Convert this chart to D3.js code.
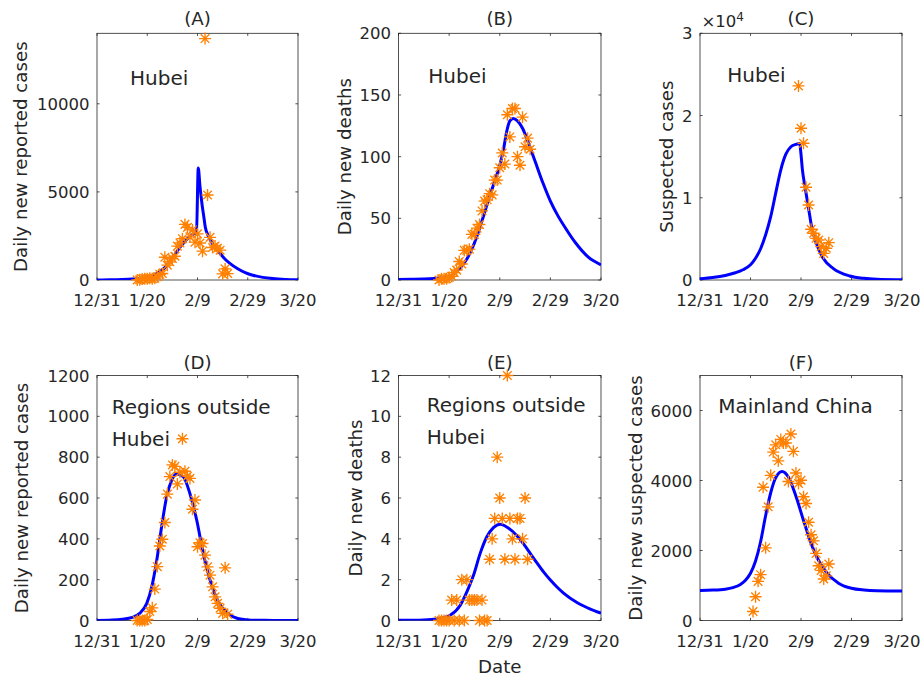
<!DOCTYPE html>
<html><head><meta charset="utf-8">
<script src="https://cdn.jsdelivr.net/npm/d3@7"></script>
<style>
body{margin:0;background:#fff}
svg{display:block}
text{font-family:"DejaVu Sans",sans-serif;fill:#262626}
</style>
</head><body>
<svg id="chart" width="921" height="678"></svg>
<script>
// ---------- shared axis data ----------
const xTickDays = [0, 20, 40, 60, 80];
const xTickLabels = ["12/31", "1/20", "2/9", "2/29", "3/20"];

// ---------- (A) Hubei daily new reported cases ----------
const obsDaysA = [16,17,18,19,20,21,22,23,24,25,26,27,28,29,30,31,32,33,34,35,36,37,38,39,40,41,42,43,44,45,46,47,48,49,50,51,52];
const obsA = [4,17,59,77,72,105,69,105,180,323,371,1291,840,1032,1220,1347,1921,2103,2345,3156,2987,2447,2841,2147,2618,2097,1638,13700,4823,2420,1843,1933,1807,1693,349,631,366];
const fitDaysA = [0,5,10,14,18,21,24,27,30,33,36,38,39.6,40.3,41,41.8,42.5,43.1,44,45.2,47,49,51,53,56,59,62,66,70,75,80];
const fitA = [5,10,25,50,100,180,380,700,1250,1850,2350,2580,2680,6350,5300,4300,3600,3000,2600,2240,1850,1500,1180,930,640,420,270,150,80,35,15];
const yTicksA = [0,5000,10000];
const yTickLabelsA = ["0","5000","10000"];

// ---------- (B) Hubei daily new deaths ----------
const obsDaysB = [16,17,18,19,20,21,22,23,24,25,26,27,28,29,30,31,32,33,34,35,36,37,38,39,40,41,42,43,44,45,46,47,48,49,50,51,52];
const obsB = [0,1,1,1,2,3,6,8,15,13,24,24,25,37,37,42,45,56,64,65,70,69,81,81,91,103,94,134,116,139,139,100,93,132,108,115,106];
const fitDaysB = [0,5,10,14,18,21,24,27,30,33,36,38,40,41.5,42.7,44,45.3,47,49,51,54,57,60,63,66,70,75,80];
const fitB = [0.5,0.6,0.8,1.2,2,4,9,17,30,48,68,80,93,106,120,129,131,129,123,113,96,79,64,52,42,30,18.5,12.3];
const yTicksB = [0,50,100,150,200];
const yTickLabelsB = ["0","50","100","150","200"];

// ---------- (C) Hubei suspected cases ----------
const obsDaysC = [39,40,41,42,43,44,45,46,47,48,49,50,51];
const obsC = [23600,18450,16630,11280,9120,6170,5680,5070,4870,4050,3240,3860,4540];
const fitDaysC = [0,5,10,14,17,20,22,24,26,28,30,32,34,36,38,39.5,39.9,40.6,41.6,42.9,44.2,46.1,48.8,52.7,59.3,65,70,80];
const fitC = [150,300,550,880,1250,1850,2650,3800,5500,7700,10600,13400,15300,16200,16500,16600,15600,13300,11300,8900,6480,4460,2640,1420,490,200,100,40];
const yTicksC = [0,10000,20000,30000];
const yTickLabelsC = ["0","1","2","3"];

// ---------- (D) Outside Hubei daily new reported cases ----------
const obsDaysD = [16,17,18,19,20,21,22,23,24,25,26,27,28,29,30,31,32,33,34,35,36,37,38,39,40,41,42,43,44,45,46,47,48,49,50,51,52];
const obsD = [0,0,0,0,5,44,62,154,264,365,398,480,619,705,762,755,669,726,890,731,707,696,545,590,361,381,377,320,263,222,165,116,84,60,35,258,31];
const fitDaysD = [0,6,10,14,17,19.8,21.8,23.8,25.7,27.7,29.7,31.7,34.4,37,39.7,42.3,45,48.3,52.9,56,60,65,70,80];
const fitD = [0,2,6,15,35,84,165,296,458,605,686,719,703,621,491,328,198,92,27,10,3,1,0.5,0];
const yTicksD = [0,200,400,600,800,1000,1200];
const yTickLabelsD = ["0","200","400","600","800","1000","1200"];

// ---------- (E) Outside Hubei daily new deaths ----------
const obsDaysE = [16,17,18,19,20,21,22,23,24,25,26,27,28,29,30,31,32,33,34,35,36,37,38,39,40,41,42,43,44,45,46,47,48,49,50,51];
const obsE = [0,0,0,0,0,1,0,1,0,2,0,2,1,1,1,1,0,1,0,0,3,4,5,8,6,5,3,12,5,4,3,5,5,4,6,3];
const fitDaysE = [0,10,15,18,20.4,24.4,27,29.6,32.3,34.9,37.5,40.2,43.5,46.8,49.4,52.1,54.7,57.3,60,62.6,65.2,70.5,75.8,80];
const fitE = [0.01,0.03,0.07,0.15,0.26,0.75,1.4,2.2,3.3,4.1,4.55,4.72,4.52,4.15,3.75,3.28,2.82,2.38,1.98,1.64,1.34,0.88,0.56,0.36];
const yTicksE = [0,2,4,6,8,10,12];
const yTickLabelsE = ["0","2","4","6","8","10","12"];

// ---------- (F) Mainland China daily new suspected cases ----------
const obsDaysF = [21,22,23,24,25,26,27,28,29,30,31,32,33,34,35,36,37,38,39,40,41,42,43,44,45,46,47,48,49,50,51];
const obsF = [257,680,1118,1309,3806,2077,3248,4148,4812,5019,4562,5173,5072,5072,3971,5328,4833,4214,3916,4008,3536,3342,2807,2450,2277,1918,1563,1432,1185,1277,1614];
const fitDaysF = [0,5,10,13,16,18,20,22,24,26,28,30,32.5,35,38,40.9,43.5,46.1,50,55,60,65,70,80];
const fitF = [860,868,895,940,1030,1150,1350,1700,2250,3000,3650,4080,4260,4100,3550,2880,2310,1830,1380,1060,920,870,850,840];
const yTicksF = [0,2000,4000,6000];
const yTickLabelsF = ["0","2000","4000","6000"];

// ---------- layout ----------
const colX = [[97, 298], [398.5, 601], [700, 902]];
const rowY = [[33.3, 280], [375.5, 620.5]];

const panels = [
  {title:"(A)", c:0, r:0, od:obsDaysA, ov:obsA, fd:fitDaysA, fv:fitA, yMax:14000, yt:yTicksA, ytl:yTickLabelsA,
   ylabel:"Daily new reported cases", ylx:26.6, notes:[["Hubei",130,85]]},
  {title:"(B)", c:1, r:0, od:obsDaysB, ov:obsB, fd:fitDaysB, fv:fitB, yMax:200, yt:yTicksB, ytl:yTickLabelsB,
   ylabel:"Daily new deaths", ylx:351.5, notes:[["Hubei",428.3,83.3]]},
  {title:"(C)", c:2, r:0, od:obsDaysC, ov:obsC, fd:fitDaysC, fv:fitC, yMax:30000, yt:yTicksC, ytl:yTickLabelsC,
   ylabel:"Suspected cases", ylx:673.5, notes:[["Hubei",727.3,81.7]], exp:true},
  {title:"(D)", c:0, r:1, od:obsDaysD, ov:obsD, fd:fitDaysD, fv:fitD, yMax:1200, yt:yTicksD, ytl:yTickLabelsD,
   ylabel:"Daily new reported cases", ylx:28, notes:[["Regions outside",111.7,414],["Hubei",111.7,446]]},
  {title:"(E)", c:1, r:1, od:obsDaysE, ov:obsE, fd:fitDaysE, fv:fitE, yMax:12, yt:yTicksE, ytl:yTickLabelsE,
   ylabel:"Daily new deaths", ylx:361.7, notes:[["Regions outside",426.7,411.7],["Hubei",426.7,444]], xlabel:"Date"},
  {title:"(F)", c:2, r:1, od:obsDaysF, ov:obsF, fd:fitDaysF, fv:fitF, yMax:7000, yt:yTicksF, ytl:yTickLabelsF,
   ylabel:"Daily new suspected cases", ylx:641.7, notes:[["Mainland China",718.3,413.3]]}
];

const svg = d3.select("#chart");
const AX = "#262626";
const ORANGE = "#ff8000";
const BLUE = "#0000ff";
const tickFont = 16.5, labelFont = 18.2, noteFont = 20;

panels.forEach((p, i) => {
  const [x0, x1] = colX[p.c];
  const [yT, yB] = rowY[p.r];
  const x = d3.scaleLinear().domain([0, 80]).range([x0, x1]);
  const y = d3.scaleLinear().domain([0, p.yMax]).range([yB, yT]);
  const g = svg.append("g");

  const clipId = "clip" + i;
  svg.append("clipPath").attr("id", clipId).append("rect")
    .attr("x", x0).attr("y", yT - 8).attr("width", x1 - x0).attr("height", yB - yT + 8);

  // axes box & ticks
  const tl = 2.6;
  const axisG = g.append("g").attr("stroke", AX).attr("stroke-width", 0.8).attr("fill", "none");
  axisG.append("rect").attr("x", x0).attr("y", yT).attr("width", x1 - x0).attr("height", yB - yT);
  xTickDays.forEach(d => {
    const xx = x(d);
    axisG.append("line").attr("x1", xx).attr("x2", xx).attr("y1", yB).attr("y2", yB - tl);
    axisG.append("line").attr("x1", xx).attr("x2", xx).attr("y1", yT).attr("y2", yT + tl);
  });
  p.yt.forEach(v => {
    const yy = y(v);
    axisG.append("line").attr("x1", x0).attr("x2", x0 + tl).attr("y1", yy).attr("y2", yy);
    axisG.append("line").attr("x1", x1).attr("x2", x1 - tl).attr("y1", yy).attr("y2", yy);
  });

  // tick labels
  const xlY = p.r === 0 ? 306 : 646.5;
  xTickDays.forEach((d, k) => {
    g.append("text").attr("x", x(d)).attr("y", xlY).attr("text-anchor", "middle")
      .attr("font-size", tickFont).text(xTickLabels[k]);
  });
  p.yt.forEach((v, k) => {
    g.append("text").attr("x", x0 - 7.5).attr("y", y(v) + 6).attr("text-anchor", "end")
      .attr("font-size", tickFont).text(p.ytl[k]);
  });

  // exponent label
  if (p.exp) {
    const t = g.append("text").attr("x", x0 + 1.5).attr("y", yT - 6.5).attr("font-size", tickFont);
    t.append("tspan").text("\u00d710");
    t.append("tspan").attr("font-size", 12).attr("dy", -5.5).text("4");
  }

  // title
  g.append("text").attr("x", (x0 + x1) / 2).attr("y", p.r === 0 ? 25 : 368.5)
    .attr("text-anchor", "middle").attr("font-size", labelFont).text(p.title);

  // y label
  const yc = (yT + yB) / 2;
  g.append("text").attr("x", p.ylx).attr("y", yc).attr("text-anchor", "middle")
    .attr("transform", `rotate(-90,${p.ylx},${yc})`).attr("font-size", labelFont).text(p.ylabel);

  if (p.xlabel) {
    g.append("text").attr("x", (x0 + x1) / 2).attr("y", 673.3).attr("text-anchor", "middle")
      .attr("font-size", labelFont).text(p.xlabel);
  }

  // annotations
  p.notes.forEach(n => {
    g.append("text").attr("x", n[1]).attr("y", n[2]).attr("font-size", noteFont).attr("fill", "#000").text(n[0]);
  });

  // fitted curve
  const line = d3.line().x((d, k) => x(p.fd[k])).y(d => y(d)).curve(d3.curveMonotoneX);
  g.append("path").attr("d", line(p.fv)).attr("fill", "none").attr("stroke", BLUE)
    .attr("stroke-width", 3).attr("stroke-linejoin", "round").attr("clip-path", `url(#${clipId})`);

  // asterisk markers
  const r = 6, rd = 4.3;
  const star = `M${-r},0H${r}M0,${-r}V${r}M${-rd},${-rd}L${rd},${rd}M${-rd},${rd}L${rd},${-rd}`;
  g.append("g").selectAll("path").data(p.ov).join("path")
    .attr("transform", (d, k) => `translate(${x(p.od[k])},${y(d)})`)
    .attr("d", star).attr("fill", "none").attr("stroke", ORANGE).attr("stroke-width", 1.35);
});
</script>
</body></html>
